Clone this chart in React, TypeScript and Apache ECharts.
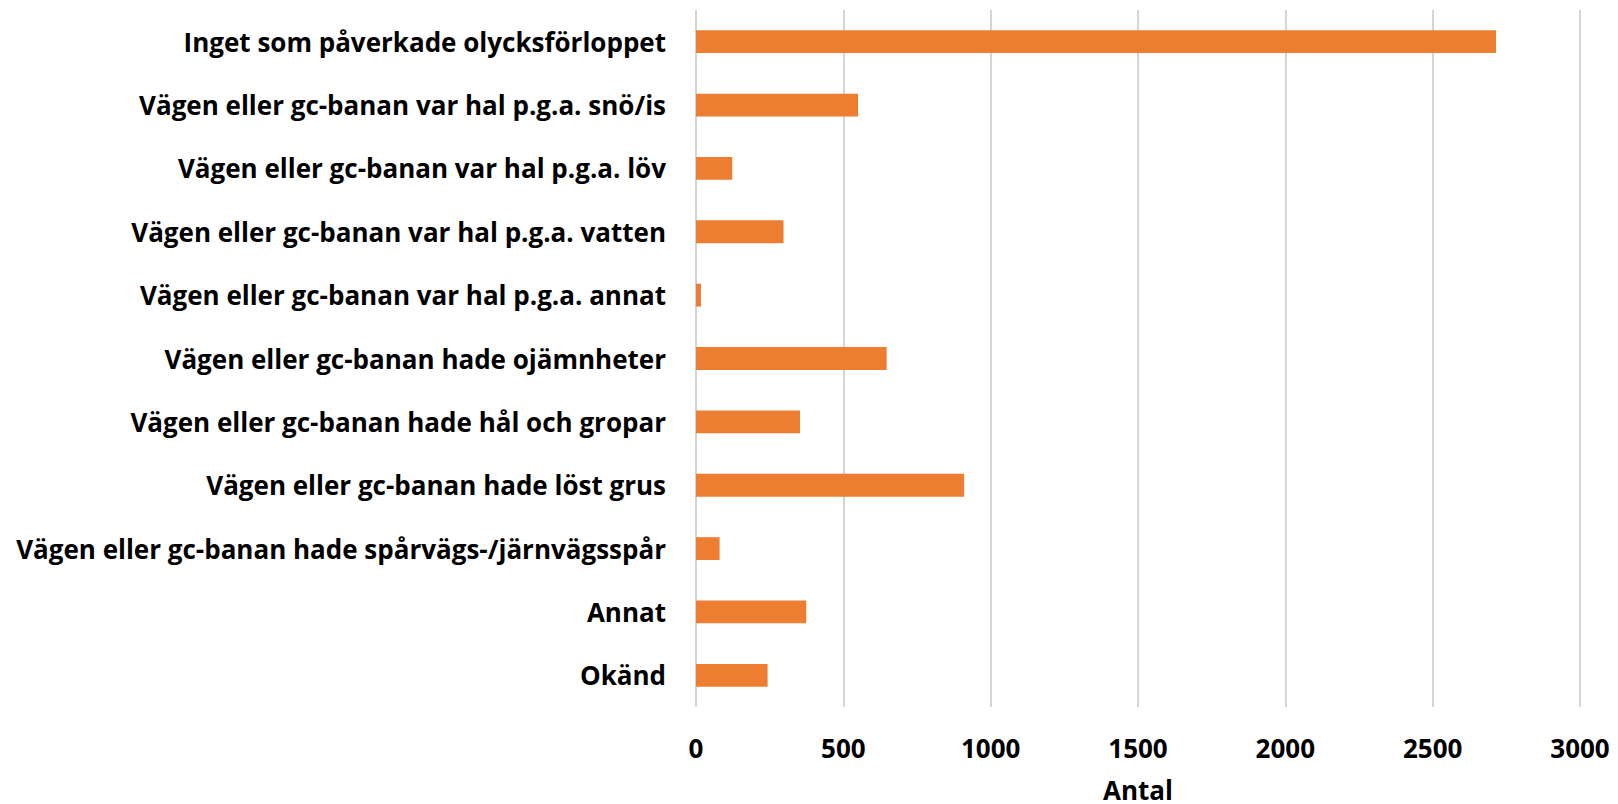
import React, { useEffect, useRef } from "react";
import * as echarts from "echarts";

const categories = [
  "Inget som påverkade olycksförloppet",
  "Vägen eller gc-banan var hal p.g.a. snö/is",
  "Vägen eller gc-banan var hal p.g.a. löv",
  "Vägen eller gc-banan var hal p.g.a. vatten",
  "Vägen eller gc-banan var hal p.g.a. annat",
  "Vägen eller gc-banan hade ojämnheter",
  "Vägen eller gc-banan hade hål och gropar",
  "Vägen eller gc-banan hade löst grus",
  "Vägen eller gc-banan hade spårvägs-/järnvägsspår",
  "Annat",
  "Okänd",
];

const values = [2715, 550, 123, 297, 17, 647, 353, 910, 80, 374, 243];

const axisMin = 0;
const axisMax = 3000;
const axisStep = 500;
const axisName = "Antal";

export default function App() {
  const ref = useRef<HTMLDivElement>(null);
  useEffect(() => {
    if (!ref.current) return;
    const chart = echarts.init(ref.current, undefined, { renderer: "svg" });
    chart.setOption({
      animation: false,
      backgroundColor: "#ffffff",
      grid: {
        left: 696,
        right: 38,
        top: 10,
        bottom: 97,
        containLabel: false,
        outerBoundsMode: "none",
      },
      xAxis: {
        type: "value",
        min: axisMin,
        max: axisMax,
        interval: axisStep,
        axisLine: { show: false },
        axisTick: { show: false },
        splitLine: { show: true, lineStyle: { color: "#d4d4d4", width: 2 } },
        axisLabel: {
          fontFamily: "Open Sans",
          fontWeight: "bold",
          fontSize: 26,
          color: "#000000",
          margin: 28,
          formatter: (v: number) => String(v),
        },
        name: axisName,
        nameLocation: "middle",
        nameGap: 70,
        nameTextStyle: {
          fontFamily: "Open Sans",
          fontWeight: "bold",
          fontSize: 26,
          lineHeight: 26,
          color: "#000000",
        },
      },
      yAxis: {
        type: "category",
        inverse: true,
        data: categories,
        axisLine: { show: false },
        axisTick: { show: false },
        splitLine: { show: false },
        axisLabel: {
          fontFamily: "Open Sans",
          fontWeight: "bold",
          fontSize: 26,
          color: "#000000",
          margin: 30,
        },
      },
      series: [
        {
          type: "bar",
          data: values,
          barWidth: "36%",
          itemStyle: { color: "#ED7D31" },
        },
      ],
    });
    return () => chart.dispose();
  }, []);
  return (
    <div
      ref={ref}
      style={{ position: "fixed", left: 0, top: 0, width: 1618, height: 804 }}
    />
  );
}
